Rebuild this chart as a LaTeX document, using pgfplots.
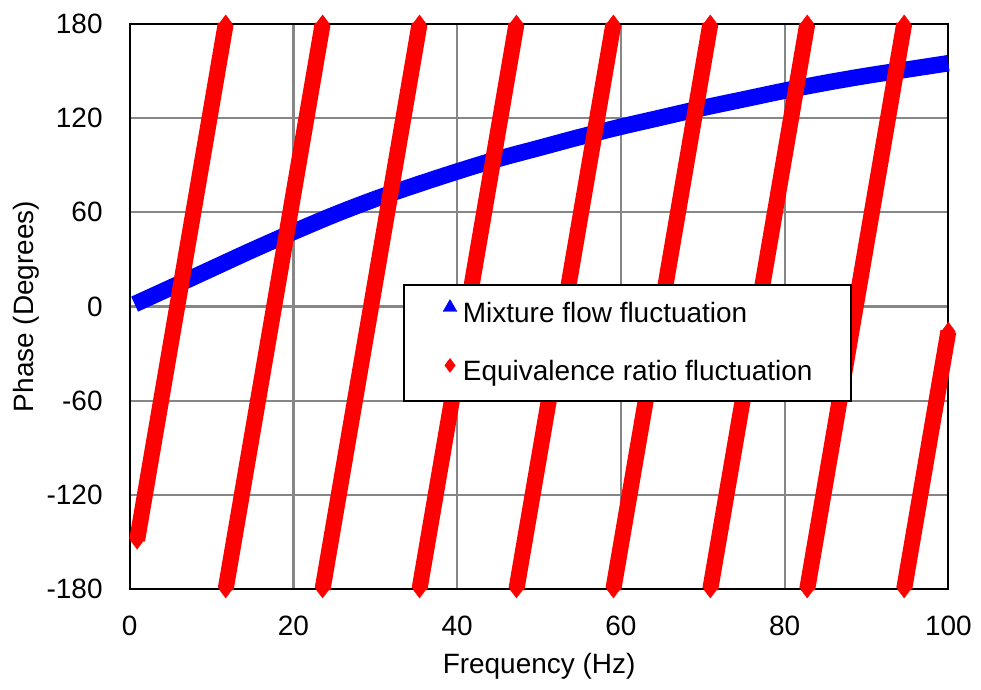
\documentclass[border=0pt]{standalone}
\usepackage{fontspec}
\setmainfont{Liberation Sans}
\usepackage{pgfplots}
\pgfplotsset{compat=1.18}
\newcommand\ff{\fontsize{28bp}{34bp}\selectfont}
\definecolor{gridgray}{RGB}{134,134,134}
\begin{document}
\ff
\begin{tikzpicture}
\begin{axis}[
  scale only axis, width=820bp, height=566bp,
  xmin=0, xmax=100, ymin=-180, ymax=180,
  xtick={0,20,40,60,80,100}, ytick={-180,-120,-60,0,60,120,180},
  major tick length=0pt,
  grid=major,
  major grid style={line width=2.2bp, color=gridgray},
  axis line style={line width=2.25bp, black},
  every tick label/.append style={font=\ff},
  /pgf/number format/assume math mode=true,
  yticklabel style={xshift=-17.7bp},
  xticklabel style={yshift=-17bp},
  label style={font=\ff},
  xlabel={Frequency (Hz)}, ylabel={Phase (Degrees)},
  xlabel style={at={(rel axis cs:0.5,-0.1502)}, anchor=base},
  ylabel style={at={(rel axis cs:-0.1171,0.5)}, anchor=base},
  clip=false,
  unbounded coords=jump,
  legend cell align=left,
  legend style={at={(rel axis cs:0.334,0.5406)}, anchor=north west,
    draw=black, line width=2bp, fill=white, font=\ff,
    inner xsep=39bp, inner ysep=15bp,
    nodes={inner sep=0bp, text height=20bp, text depth=6bp},
    column sep=6bp, row sep=30bp},
]
\path (rel axis cs:-0.1585,-0.1643) rectangle (rel axis cs:1.0378,1.0424);

\addplot[blue, line width=16.5bp, line cap=butt, line join=round, smooth,
  legend image code/.code={\draw[blue, fill=blue, line width=0.4bp] plot[mark=triangle*, mark size=8bp] coordinates {(7bp,8bp)};}]
coordinates {
(0.6,1.5) (5,12) (10,24) (15,36) (20,47.5) (25,58.5) (30,68.5) (35,77.5)
(40,86) (45,94) (50,101) (55,108) (60,114.5) (65,120.5) (70,126.5)
(75,132) (80,137.5) (85,142.5) (90,147) (95,151) (100,155)
};
\addlegendentry{Mixture flow fluctuation}

\addplot[red, line width=16bp, line cap=butt, mark=diamond*, mark size=9bp,
  mark options={line width=0.4bp, fill=red},
  legend image code/.code={\draw[red, fill=red, line width=0.4bp] plot[mark=diamond*, mark size=7bp] coordinates {(7bp,8bp)};}]
coordinates {
(0.9,-148.9) (11.72,180) (11.72,nan)
(11.72,-180) (23.56,180) (23.56,nan)
(23.56,-180) (35.40,180) (35.40,nan)
(35.40,-180) (47.24,180) (47.24,nan)
(47.24,-180) (59.08,180) (59.08,nan)
(59.08,-180) (70.92,180) (70.92,nan)
(70.92,-180) (82.76,180) (82.76,nan)
(82.76,-180) (94.60,180) (94.60,nan)
(94.60,-180) (100,-15.8)
};
\addlegendentry{Equivalence ratio fluctuation}
\end{axis}
\end{tikzpicture}
\end{document}
